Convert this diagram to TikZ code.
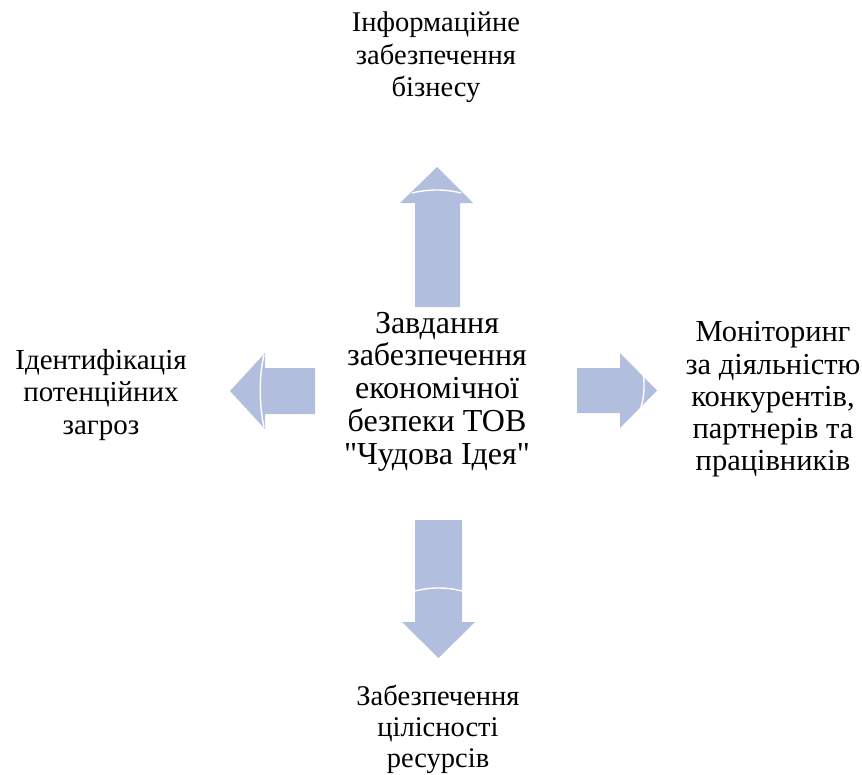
\documentclass[tikz,border=0pt]{standalone}
\usepackage{fontspec}
\setmainfont{Liberation Serif}[Ligatures=TeXOff]
\usepackage{tikz}
\usetikzlibrary{positioning}
\definecolor{arrowblue}{RGB}{178,190,222}

\begin{document}
\begin{tikzpicture}[x=1pt,y=-1pt,
  caption/.style 2 args={align=center,font=\fontsize{#1}{#2}\selectfont},
  blockarrow/.style={fill=arrowblue,draw=none},
  gapline/.style={draw=white,line width=1.4pt}]
\tikzstyle{every node}+=[inner sep=0pt]
\useasboundingbox (0,0) rectangle (862,774);
\node [caption={32}{32.8}] (task) at (437,391.5) {Завдання\\забезпечення\\економічної\\безпеки ТОВ\\"Чудова Ідея"};
\node [caption={28.5}{32.5}] (info) at (436,57.5) {Інформаційне\\забезпечення\\бізнесу};
\node [caption={29}{32.5}] (threat) at (101,394.7) {Ідентифікація\\потенційних\\загроз};
\node [caption={30.5}{32.3}] (monitor) at (773,399.5) {Моніторинг\\за діяльністю\\конкурентів,\\партнерів та\\працівників};
\node [caption={28.5}{31}] (assets) at (438,729.5) {Забезпечення\\цілісності\\ресурсів};
\fill [blockarrow] (415,307) -- (460,307) -- (460,203) -- (473,203) -- (437,167) -- (400,203) -- (415,203) -- cycle;
\draw [gapline] (412,193) .. controls (428,189) and (446,189) .. (461,193);
\fill [blockarrow] (315,368) -- (315,414) -- (265,414) -- (265,429) -- (230,391) -- (265,353) -- (265,368) -- cycle;
\draw [gapline] (264,355) .. controls (259,375) and (259,405) .. (264,427);
\fill [blockarrow] (577,368) -- (620,368) -- (620,353) -- (657,390.5) -- (620,428) -- (620,413) -- (577,413) -- cycle;
\draw [gapline] (643,373) .. controls (645,385) and (644,398) .. (641,407);
\fill [blockarrow] (415,520) -- (462,520) -- (462,622) -- (475,622) -- (438.5,658) -- (402,622) -- (415,622) -- cycle;
\draw [gapline] (415,591) .. controls (430,587) and (447,587) .. (462,591);
\end{tikzpicture}
\end{document}
